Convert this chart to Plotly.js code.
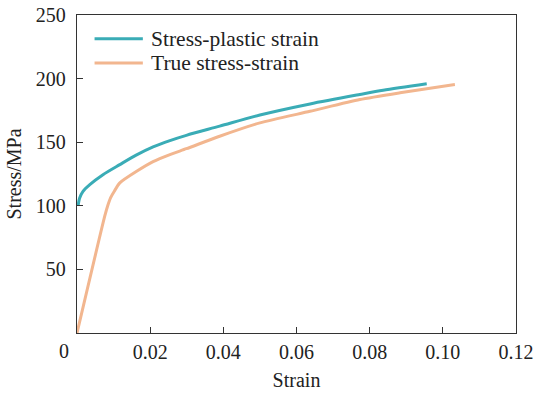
<!DOCTYPE html>
<html>
<head>
<meta charset="utf-8">
<script src="https://cdn.plot.ly/plotly-3.0.1.min.js"></script>
<style>html,body{margin:0;padding:0;background:#fff;}#chart{width:536px;height:394px;}</style>
</head>
<body>
<div id="chart"></div>
<script>
// Series names
const seriesNames = ["Stress-plastic strain", "True stress-strain"];
const seriesColors = ["#3aacb6", "#f2b68f"];

// Stress-plastic strain
const plasticStrain = [0.0003, 0.0007, 0.0016, 0.0035, 0.0071, 0.0117, 0.0163, 0.0208, 0.0254, 0.0299, 0.039, 0.05, 0.0637, 0.0773, 0.0837, 0.0956];
const plasticStress = [100, 106, 111.2, 116.7, 124.5, 132.4, 140.0, 146.3, 151.3, 155.4, 162.6, 171.4, 180.1, 187.5, 190.8, 195.9];

// True stress-strain
const trueStrain = [0, 0.0076, 0.0085, 0.0092, 0.0102, 0.0117, 0.0163, 0.0208, 0.0254, 0.0299, 0.039, 0.05, 0.0637, 0.0773, 0.0883, 0.1033];
const trueStress = [0, 92, 101, 106.5, 111.5, 118, 127.1, 134.7, 140.3, 144.9, 154.7, 165.2, 174.3, 183.5, 188.8, 195.3];

// Axis ticks
const xTickVals = [0.02, 0.04, 0.06, 0.08, 0.10, 0.12];
const xTickText = ["0.02", "0.04", "0.06", "0.08", "0.10", "0.12"];
const yTickVals = [50, 100, 150, 200, 250];
const yTickText = ["50", "100", "150", "200", "250"];

const FONT = "Liberation Serif, Times New Roman, serif";
const TXT = "#222";

const traces = [
  {x: plasticStrain, y: plasticStress, name: seriesNames[0], mode: "lines", line: {color: seriesColors[0], width: 3, shape: "spline", smoothing: 0.8}},
  {x: trueStrain, y: trueStress, name: seriesNames[1], mode: "lines", line: {color: seriesColors[1], width: 3, shape: "spline", smoothing: 0.6}}
];

const legendY = [0.925, 0.849];
const shapes = seriesNames.map((n, i) => ({
  type: "line", xref: "paper", yref: "paper",
  x0: 0.040, x1: 0.150, y0: legendY[i], y1: legendY[i],
  line: {color: seriesColors[i], width: 3}
}));
const annotations = seriesNames.map((n, i) => ({
  text: n, xref: "paper", yref: "paper", x: 0.163, y: legendY[i],
  xanchor: "left", yanchor: "middle", showarrow: false,
  font: {family: FONT, size: 21.5, color: TXT}
}));
annotations.push({
  text: "0", xref: "paper", yref: "paper", x: -0.03, y: 0, yshift: -18,
  xanchor: "center", yanchor: "middle", showarrow: false,
  font: {family: FONT, size: 20, color: TXT}
});

const layout = {
  width: 536, height: 394,
  margin: {l: 77, r: 20, t: 15, b: 61, pad: 0},
  paper_bgcolor: "#fff", plot_bgcolor: "#fff",
  showlegend: false,
  font: {family: FONT, size: 20, color: TXT},
  xaxis: {
    range: [0, 0.12], tickvals: xTickVals, ticktext: xTickText,
    ticks: "inside", ticklen: 6, tickwidth: 1.2, tickcolor: "#333",
    showline: true, linecolor: "#333", linewidth: 1.3, mirror: true,
    showgrid: false, zeroline: false,
    tickfont: {family: FONT, size: 20, color: TXT},
    ticklabelstandoff: 1,
    title: {text: "Strain", font: {family: FONT, size: 20, color: TXT}, standoff: 10}
  },
  yaxis: {
    range: [0, 250], tickvals: yTickVals, ticktext: yTickText,
    ticks: "inside", ticklen: 6, tickwidth: 1.2, tickcolor: "#333",
    showline: true, linecolor: "#333", linewidth: 1.3, mirror: true,
    showgrid: false, zeroline: false,
    tickfont: {family: FONT, size: 20, color: TXT},
    ticklabelstandoff: 6,
    title: {text: "Stress/MPa", font: {family: FONT, size: 20, color: TXT}, standoff: 8}
  },
  shapes: shapes,
  annotations: annotations
};

Plotly.newPlot("chart", traces, layout, {displayModeBar: false, staticPlot: true});
</script>
</body>
</html>
